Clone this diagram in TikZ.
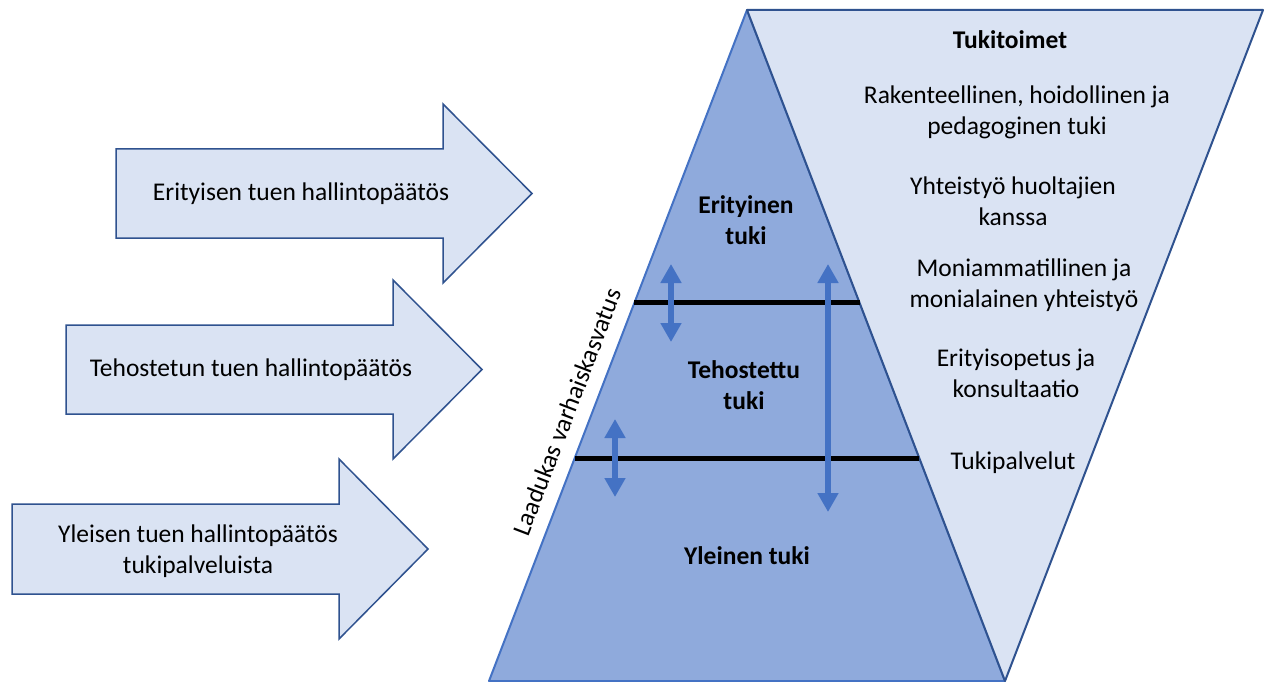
\documentclass[tikz,border=0pt]{standalone}
\usepackage{fontspec}
\setmainfont{Carlito}
\usetikzlibrary{arrows.meta}
\definecolor{pyrfill}{HTML}{8FAADC}
\definecolor{lightfill}{HTML}{DAE3F3}
\definecolor{darkline}{HTML}{2F528F}
\definecolor{midblue}{HTML}{4472C4}
\begin{document}
\begin{tikzpicture}[x=1pt,y=-1pt,
  txt/.style={font=\fontsize{25.5}{31}\selectfont, align=center, inner sep=0pt},
  btxt/.style={font=\fontsize{25.5}{31}\selectfont\bfseries, align=center, inner sep=0pt},
  blockarrow/.style={fill=lightfill, draw=darkline, line width=1.5pt, line join=miter},
  levelline/.style={line width=5pt, black},
  updown/.style={midblue, line width=6pt, {Triangle[width=20pt,length=19pt]}-{Triangle[width=20pt,length=19pt]}}]
\useasboundingbox (0,0) rectangle (1269,682);
\fill[white] (0,0) rectangle (1269,682);
% main shapes
\coordinate (apex) at (747,10);
\coordinate (bl) at (489,681);
\coordinate (br) at (1005,681);
\coordinate (tr) at (1263,10);
\draw[fill=pyrfill, draw=midblue, line width=2pt, line join=round] (apex) -- (br) -- (bl) -- cycle;
\draw[fill=lightfill, draw=darkline, line width=2pt, line join=round] (apex) -- (tr) -- (br) -- cycle;
% level lines
\coordinate (l1a) at (634,302);
\coordinate (l1b) at (860,302);
\coordinate (l2a) at (575,458);
\coordinate (l2b) at (919,458);
\draw[levelline] (l1a) -- (l1b);
\draw[levelline] (l2a) -- (l2b);
% double arrows
\coordinate (d1t) at (671,264);
\coordinate (d1b) at (671,342);
\coordinate (d2t) at (615,419);
\coordinate (d2b) at (615,497);
\coordinate (d3t) at (828,264);
\coordinate (d3b) at (828,512);
\draw[updown] (d1t) -- (d1b);
\draw[updown] (d2t) -- (d2b);
\draw[updown] (d3t) -- (d3b);
% block arrows
\draw[blockarrow] (116,149) -- (443,149) -- (443,104) -- (532,193.5) -- (443,283) -- (443,238) -- (116,238) -- cycle;
\draw[blockarrow] (66,325) -- (393,325) -- (393,280) -- (482,369.5) -- (393,459) -- (393,414) -- (66,414) -- cycle;
\draw[blockarrow] (12,504) -- (339,504) -- (339,459) -- (428,549) -- (339,639) -- (339,594) -- (12,594) -- cycle;
\node[txt] (a1) at (301,194) {Erityisen tuen hallintopäätös};
\node[txt] (a2) at (251,370) {Tehostetun tuen hallintopäätös};
\node[txt] (a3) at (198,551) {Yleisen tuen hallintopäätös\\tukipalveluista};
% pyramid labels
\node[btxt] (p1) at (746,220) {Erityinen\\tuki};
\node[btxt] (p2) at (744,385) {Tehostettu\\tuki};
\node[btxt] (p3) at (747,556) {Yleinen tuki};
\node[txt, rotate=69] (lv) at (567,412) {Laadukas varhaiskasvatus};
% right side
\node[btxt] (t0) at (1010,40) {Tukitoimet};
\node[txt] (t1) at (1017,112) {Rakenteellinen, hoidollinen ja\\pedagoginen tuki};
\node[txt] (t2) at (1013,201) {Yhteistyö huoltajien\\kanssa};
\node[txt] (t3) at (1024,285) {Moniammatillinen ja\\monialainen yhteistyö};
\node[txt] (t4) at (1016,373) {Erityisopetus ja\\konsultaatio};
\node[txt] (t5) at (1013,463) {Tukipalvelut};
\end{tikzpicture}
\end{document}
